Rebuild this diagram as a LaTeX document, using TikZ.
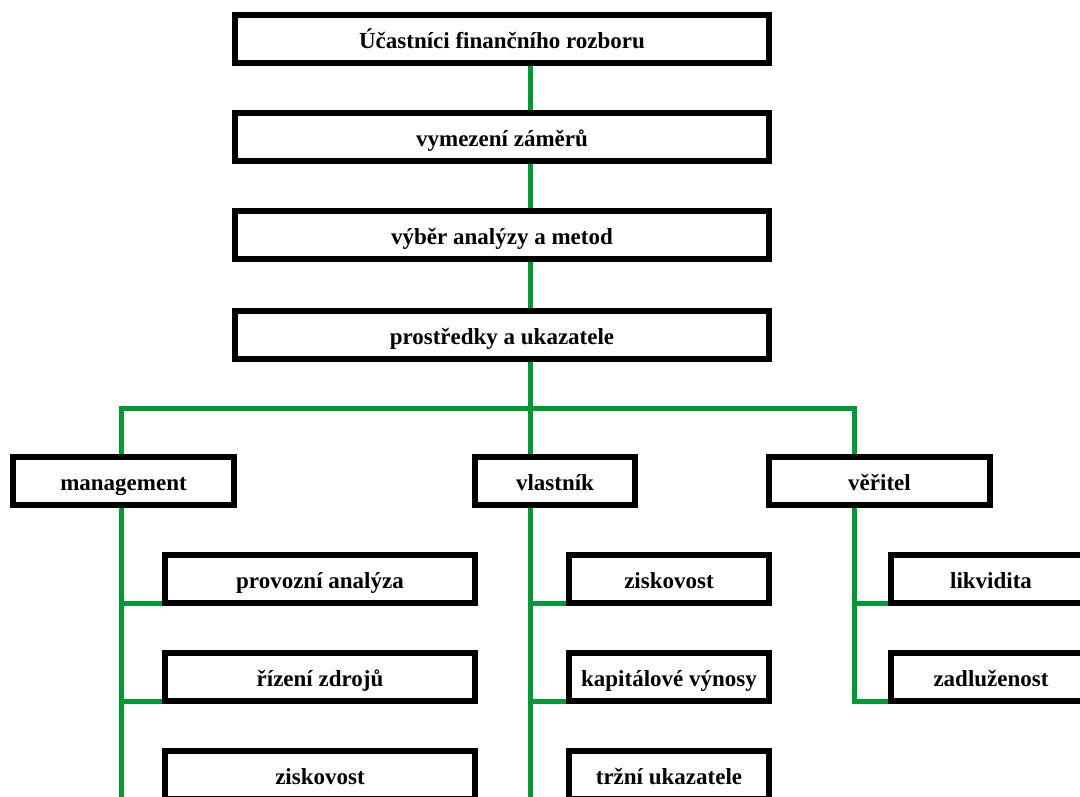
\documentclass[tikz,border=0pt]{standalone}
\usepackage{fontspec}
\setmainfont{Liberation Serif}
\usetikzlibrary{positioning, backgrounds}
\definecolor{linkgreen}{RGB}{0,153,51}
\tikzset{
  box/.style={draw, line width=6pt, fill=white, minimum height=48pt, inner sep=0pt, outer sep=0pt,
    text height=19pt, text depth=0pt, font=\fontsize{23}{27}\selectfont\bfseries},
  link/.style={draw=linkgreen, line width=5pt},
}

\begin{document}
\begin{tikzpicture}[x=1pt, y=1pt, node distance=50pt]
    \path[use as bounding box, clip] (0,0) rectangle (1080,-796);

    \node[box, minimum width=534pt] (participants) at (502,-39) {Účastníci finančního rozboru};
    \node[box, minimum width=534pt, below=of participants] (aims) {vymezení záměrů};
    \node[box, minimum width=534pt, below=of aims] (methods) {výběr analýzy a metod};
    \node[box, minimum width=534pt, below=52pt of methods] (tools) {prostředky a ukazatele};

    \node[box, minimum width=221pt] (management) at (123.5,-481) {management};
    \node[box, minimum width=160pt] (owner) at (555,-481) {vlastník};
    \node[box, minimum width=221pt] (creditor) at (879.5,-481) {věřitel};

    \node[box, minimum width=310pt] (operations) at (320,-579) {provozní analýza};
    \node[box, minimum width=310pt, below=of operations] (resources) {řízení zdrojů};
    \node[box, minimum width=310pt, below=of resources] (profit m) {ziskovost};

    \node[box, minimum width=200pt] (profit o) at (669,-579) {ziskovost};
    \node[box, minimum width=200pt, below=of profit o] (capital) {kapitálové výnosy};
    \node[box, minimum width=200pt, below=of capital] (market) {tržní ukazatele};

    \node[box, minimum width=200pt] (liquidity) at (991,-579) {likvidita};
    \node[box, minimum width=200pt, below=of liquidity] (debt) {zadluženost};

    \coordinate (fork) at (530,-408);
    \coordinate (left fork) at (121,-408);
    \coordinate (right fork) at (854,-408);

    \begin{scope}[on background layer]
        % main chain
        \draw[link] (participants.south -| fork) -- (aims.north -| fork);
        \draw[link] (aims.south -| fork) -- (methods.north -| fork);
        \draw[link] (methods.south -| fork) -- (tools.north -| fork);
        \draw[link] (tools.south -| fork) -- (fork);
        % split into the three parties
        \draw[link] (left fork |- management.north) -- (left fork) -- (right fork) -- (right fork |- creditor.north);
        \draw[link] (fork) -- (owner.north -| fork);
        % management
        \draw[link] (left fork |- management.south) |- (profit m.south west);
        \draw[link] (left fork |- operations.south) -- (operations.south west);
        \draw[link] (left fork |- resources.south) -- (resources.south west);
        % owner
        \draw[link] (fork |- owner.south) |- (market.south west);
        \draw[link] (fork |- profit o.south) -- (profit o.south west);
        \draw[link] (fork |- capital.south) -- (capital.south west);
        % creditor
        \draw[link] (right fork |- creditor.south) |- (debt.south west);
        \draw[link] (right fork |- liquidity.south) -- (liquidity.south west);
    \end{scope}
\end{tikzpicture}
\end{document}
